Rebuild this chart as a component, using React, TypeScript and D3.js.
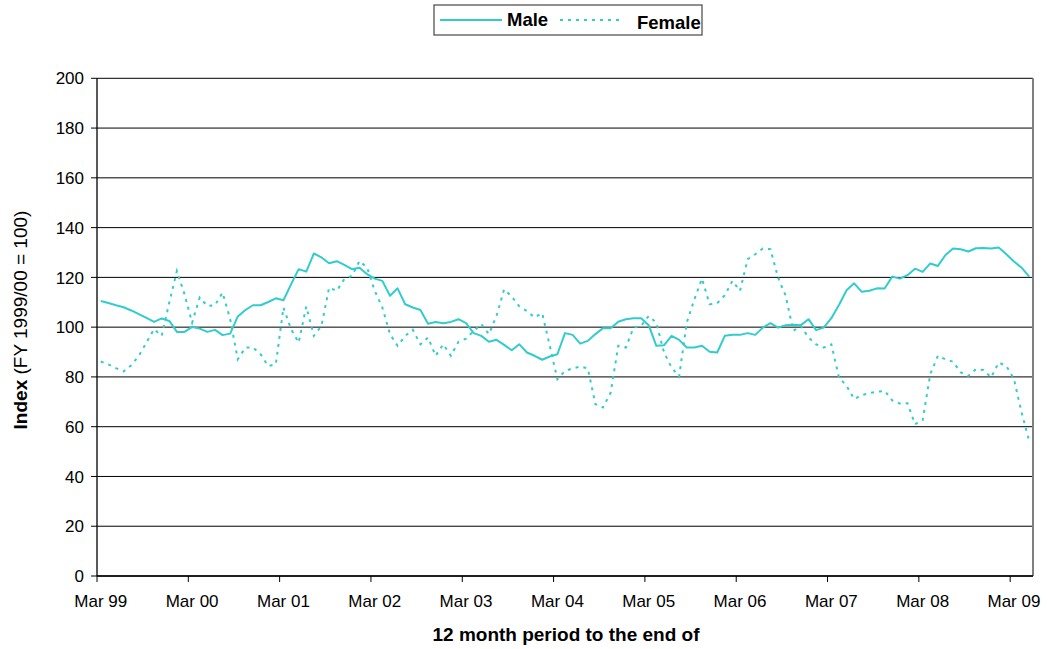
import React from "react";
import * as d3 from "d3";

const tickLabels = ["Mar 99", "Mar 00", "Mar 01", "Mar 02", "Mar 03", "Mar 04", "Mar 05", "Mar 06", "Mar 07", "Mar 08", "Mar 09"];
const yTicks = [0, 20, 40, 60, 80, 100, 120, 140, 160, 180, 200];

const male = [
  110.5, 109.7, 108.8, 108.0, 106.7, 105.2, 103.7, 102.1, 103.5, 102.5, 98.1, 98.1,
  100.1, 99.4, 98.1, 98.9, 96.8, 97.4, 104.3, 106.9, 108.8, 108.8, 110.1, 111.6,
  110.8, 117.2, 123.3, 122.3, 129.6, 128.0, 125.7, 126.5, 125.0, 123.3, 123.9, 121.3,
  119.5, 118.6, 112.6, 115.6, 109.2, 107.9, 106.9, 101.4, 102.1, 101.6, 102.1, 103.2,
  101.6, 97.6, 96.5, 94.1, 94.9, 92.9, 90.7, 93.1, 89.8, 88.5, 86.9, 88.2,
  89.1, 97.6, 96.9, 93.4, 94.5, 97.2, 99.6, 99.6, 102.2, 103.2, 103.6, 103.6,
  100.8, 92.5, 92.7, 96.5, 94.9, 91.8, 91.8, 92.5, 90.1, 89.8, 96.5, 96.9,
  96.9, 97.6, 96.9, 99.8, 101.6, 99.8, 100.8, 101.0, 100.8, 103.2, 98.8, 99.8,
  103.6, 108.9, 114.8, 117.6, 114.2, 114.6, 115.6, 115.5, 120.3, 119.5, 120.9, 123.5,
  122.2, 125.6, 124.6, 129.0, 131.6, 131.3, 130.4, 131.7, 131.8, 131.6, 132.0, 129.3,
  126.4, 123.9, 120.3,
];

const female = [
  86.2, 85.0, 83.5, 82.2, 84.7, 88.5, 93.8, 99.2, 96.5, 109.9, 122.6, 113.2,
  101.8, 111.9, 108.5, 108.8, 113.9, 103.2, 87.1, 91.8, 91.8, 89.1, 84.4, 85.1,
  107.9, 99.2, 93.8, 108.3, 96.5, 100.5, 115.9, 114.6, 119.3, 120.6, 126.6, 123.9,
  114.6, 107.9, 97.2, 92.5, 96.5, 98.9, 93.1, 95.8, 88.5, 93.1, 88.5, 94.1,
  95.4, 98.5, 101.2, 97.2, 104.5, 115.2, 112.3, 108.3, 106.5, 103.9, 105.6, 92.5,
  79.1, 82.4, 83.4, 84.2, 83.4, 69.0, 67.7, 73.7, 92.5, 91.8, 99.8, 100.5,
  104.5, 101.8, 90.0, 83.8, 80.2, 101.8, 111.2, 119.5, 109.2, 109.6, 112.8, 118.6,
  114.6, 127.3, 129.3, 131.6, 131.3, 119.9, 112.6, 98.5, 100.5, 95.8, 93.1, 91.8,
  93.1, 79.8, 76.4, 71.1, 72.7, 73.5, 74.0, 74.4, 70.6, 69.3, 69.4, 61.0,
  62.6, 81.1, 88.5, 87.1, 86.1, 81.8, 80.4, 83.1, 82.8, 79.8, 85.8, 84.4,
  79.1, 65.7, 54.3,
];

const COLOR = "#33CCCC";
const FONT = "'Liberation Sans', Arial, sans-serif";

export default function App() {
  const W = 1049, H = 649;
  const left = 97, right = 1033, top = 78.3, bottom = 576;
  const n = male.length;
  const idx = d3.range(n);
  const xBand = d3.scaleBand<number>().domain(idx).range([left, right]).paddingInner(0).paddingOuter(0);
  const xc = (i: number) => (xBand(i) as number) + xBand.bandwidth() / 2;
  const y = d3.scaleLinear().domain([0, 200]).range([bottom, top]);
  const line = d3.line<number>().x((_, i) => xc(i)).y((d) => y(d));

  const tickIdx = tickLabels.map((_, k) => k * 12);

  return (
    <svg width={W} height={H} style={{ position: "absolute", left: 0, top: 0, background: "#fff" }} fontFamily={FONT}>
      {/* gridlines */}
      {yTicks.map((t) => (
        <line key={"g" + t} x1={left} x2={right} y1={y(t)} y2={y(t)} stroke="#000" strokeWidth={1} />
      ))}
      {/* right border */}
      <line x1={right} x2={right} y1={top} y2={bottom} stroke="#808080" strokeWidth={2} />
      {/* y axis */}
      <line x1={left} x2={left} y1={top} y2={bottom} stroke="#000" strokeWidth={1.3} />
      {yTicks.map((t) => (
        <g key={"yt" + t}>
          <line x1={left - 6} x2={left} y1={y(t)} y2={y(t)} stroke="#000" strokeWidth={1} />
          <text x={84} y={y(t)} dy="0.36em" textAnchor="end" fontSize={17} fill="#000">{t}</text>
        </g>
      ))}
      {/* x axis */}
      <line x1={left} x2={right} y1={bottom} y2={bottom} stroke="#000" strokeWidth={1.3} />
      {tickIdx.map((i, k) => (
        <g key={"xt" + i}>
          <line x1={xBand(i) as number} x2={xBand(i) as number} y1={bottom} y2={bottom + 6} stroke="#000" strokeWidth={1} />
          <text x={xc(i)} y={607} textAnchor="middle" fontSize={17} fill="#000">{tickLabels[k]}</text>
        </g>
      ))}
      {/* lines */}
      <path d={line(male) || ""} fill="none" stroke={COLOR} strokeWidth={2} strokeLinejoin="round" />
      <path d={line(female) || ""} fill="none" stroke={COLOR} strokeWidth={2} strokeDasharray="3,5" />
      {/* axis titles */}
      <text x={566} y={641} textAnchor="middle" fontSize={19} fontWeight="bold" fill="#000">12 month period to the end of</text>
      <text transform={`translate(27,320) rotate(-90)`} textAnchor="middle" fontSize={19} fill="#000">
        <tspan fontWeight="bold">Index</tspan>
        <tspan> (FY 1999/00 = 100)</tspan>
      </text>
      {/* legend */}
      <rect x={434} y={5} width={268} height={30} fill="#fff" stroke="#555" strokeWidth={1.3} />
      <line x1={440} x2={502} y1={20} y2={20} stroke={COLOR} strokeWidth={2} />
      <text x={507} y={26} fontSize={18.5} fontWeight="bold" fill="#000">Male</text>
      <line x1={560} x2={623} y1={20} y2={20} stroke={COLOR} strokeWidth={2} strokeDasharray="3,5" />
      <text x={637} y={28.5} fontSize={18.5} fontWeight="bold" fill="#000">Female</text>
    </svg>
  );
}
